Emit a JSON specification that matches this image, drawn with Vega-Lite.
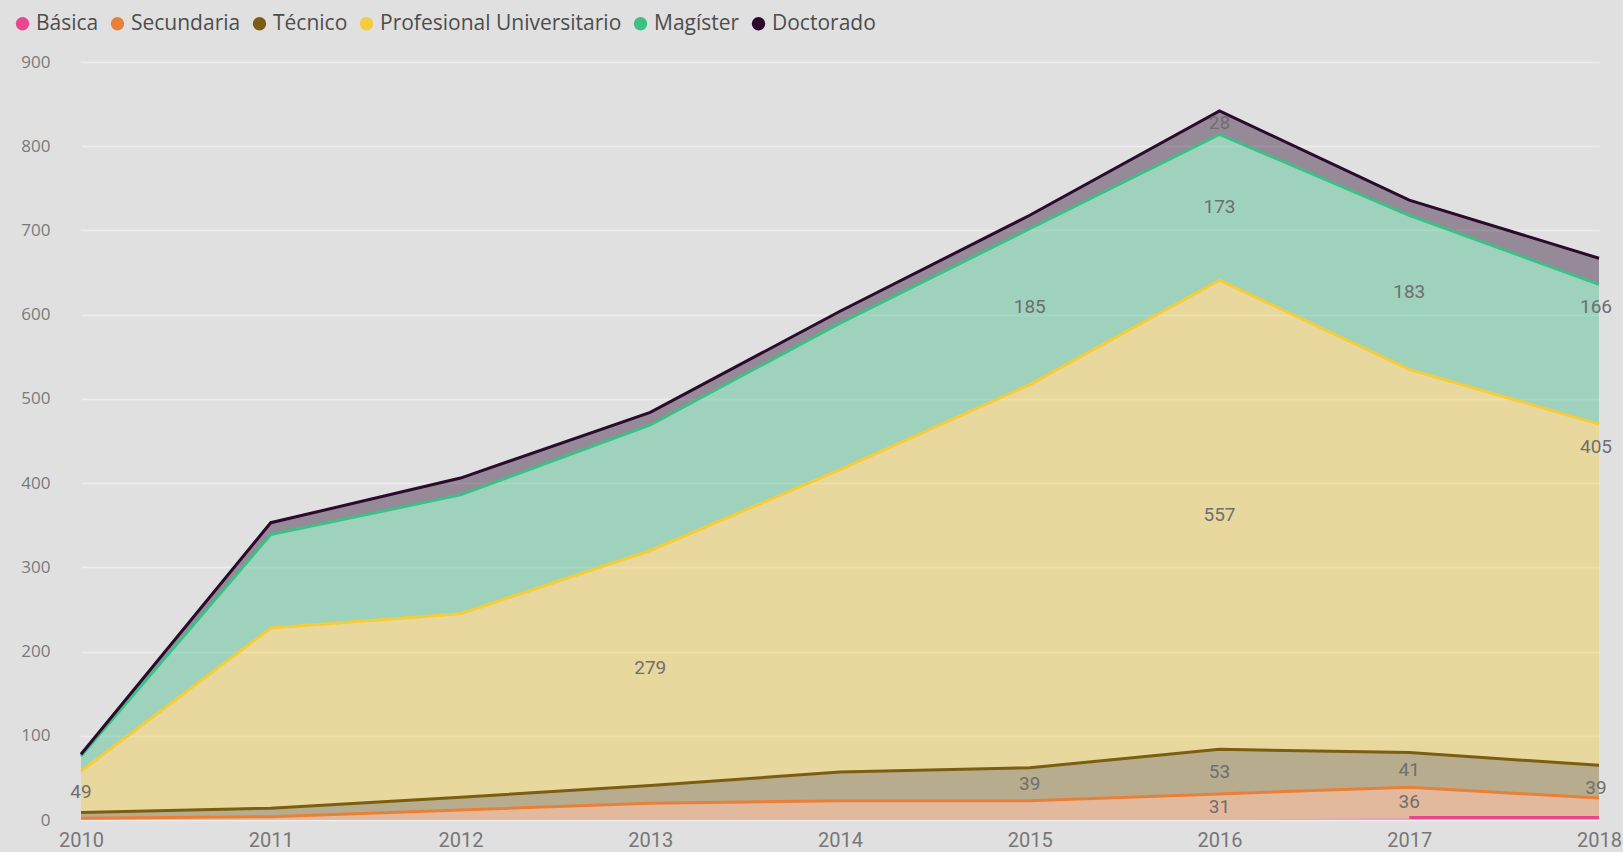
{
  "$schema": "https://vega.github.io/schema/vega-lite/v6.json",
  "width": 1542,
  "height": 758,
  "autosize": {"type": "none"},
  "padding": {"left": 62, "top": 62, "right": 19, "bottom": 32},
  "background": "#E0E0E0",
  "config": {"view": {"stroke": null}, "font": "Open Sans"},
  "data": {
    "values": [
      {"anio": 2010, "nivel": "Básica", "orden": 1, "valor": 0, "etiqueta": 0},
      {"anio": 2010, "nivel": "Secundaria", "orden": 2, "valor": 2, "etiqueta": 0},
      {"anio": 2010, "nivel": "Técnico", "orden": 3, "valor": 7, "etiqueta": 0},
      {"anio": 2010, "nivel": "Profesional Universitario", "orden": 4, "valor": 49, "etiqueta": 1},
      {"anio": 2010, "nivel": "Magíster", "orden": 5, "valor": 18, "etiqueta": 0},
      {"anio": 2010, "nivel": "Doctorado", "orden": 6, "valor": 2, "etiqueta": 0},
      {"anio": 2011, "nivel": "Básica", "orden": 1, "valor": 0, "etiqueta": 0},
      {"anio": 2011, "nivel": "Secundaria", "orden": 2, "valor": 4, "etiqueta": 0},
      {"anio": 2011, "nivel": "Técnico", "orden": 3, "valor": 10, "etiqueta": 0},
      {"anio": 2011, "nivel": "Profesional Universitario", "orden": 4, "valor": 214, "etiqueta": 0},
      {"anio": 2011, "nivel": "Magíster", "orden": 5, "valor": 111, "etiqueta": 0},
      {"anio": 2011, "nivel": "Doctorado", "orden": 6, "valor": 14, "etiqueta": 0},
      {"anio": 2012, "nivel": "Básica", "orden": 1, "valor": 0, "etiqueta": 0},
      {"anio": 2012, "nivel": "Secundaria", "orden": 2, "valor": 12, "etiqueta": 0},
      {"anio": 2012, "nivel": "Técnico", "orden": 3, "valor": 15, "etiqueta": 0},
      {"anio": 2012, "nivel": "Profesional Universitario", "orden": 4, "valor": 218, "etiqueta": 0},
      {"anio": 2012, "nivel": "Magíster", "orden": 5, "valor": 141, "etiqueta": 0},
      {"anio": 2012, "nivel": "Doctorado", "orden": 6, "valor": 20, "etiqueta": 0},
      {"anio": 2013, "nivel": "Básica", "orden": 1, "valor": 0, "etiqueta": 0},
      {"anio": 2013, "nivel": "Secundaria", "orden": 2, "valor": 20, "etiqueta": 0},
      {"anio": 2013, "nivel": "Técnico", "orden": 3, "valor": 21, "etiqueta": 0},
      {"anio": 2013, "nivel": "Profesional Universitario", "orden": 4, "valor": 279, "etiqueta": 1},
      {"anio": 2013, "nivel": "Magíster", "orden": 5, "valor": 149, "etiqueta": 0},
      {"anio": 2013, "nivel": "Doctorado", "orden": 6, "valor": 15, "etiqueta": 0},
      {"anio": 2014, "nivel": "Básica", "orden": 1, "valor": 0, "etiqueta": 0},
      {"anio": 2014, "nivel": "Secundaria", "orden": 2, "valor": 23, "etiqueta": 0},
      {"anio": 2014, "nivel": "Técnico", "orden": 3, "valor": 34, "etiqueta": 0},
      {"anio": 2014, "nivel": "Profesional Universitario", "orden": 4, "valor": 359, "etiqueta": 0},
      {"anio": 2014, "nivel": "Magíster", "orden": 5, "valor": 174, "etiqueta": 0},
      {"anio": 2014, "nivel": "Doctorado", "orden": 6, "valor": 14, "etiqueta": 0},
      {"anio": 2015, "nivel": "Básica", "orden": 1, "valor": 0, "etiqueta": 0},
      {"anio": 2015, "nivel": "Secundaria", "orden": 2, "valor": 23, "etiqueta": 0},
      {"anio": 2015, "nivel": "Técnico", "orden": 3, "valor": 39, "etiqueta": 1},
      {"anio": 2015, "nivel": "Profesional Universitario", "orden": 4, "valor": 455, "etiqueta": 0},
      {"anio": 2015, "nivel": "Magíster", "orden": 5, "valor": 185, "etiqueta": 1},
      {"anio": 2015, "nivel": "Doctorado", "orden": 6, "valor": 16, "etiqueta": 0},
      {"anio": 2016, "nivel": "Básica", "orden": 1, "valor": 0, "etiqueta": 0},
      {"anio": 2016, "nivel": "Secundaria", "orden": 2, "valor": 31, "etiqueta": 1},
      {"anio": 2016, "nivel": "Técnico", "orden": 3, "valor": 53, "etiqueta": 1},
      {"anio": 2016, "nivel": "Profesional Universitario", "orden": 4, "valor": 557, "etiqueta": 1},
      {"anio": 2016, "nivel": "Magíster", "orden": 5, "valor": 173, "etiqueta": 1},
      {"anio": 2016, "nivel": "Doctorado", "orden": 6, "valor": 28, "etiqueta": 1},
      {"anio": 2017, "nivel": "Básica", "orden": 1, "valor": 3, "etiqueta": 0},
      {"anio": 2017, "nivel": "Secundaria", "orden": 2, "valor": 36, "etiqueta": 1},
      {"anio": 2017, "nivel": "Técnico", "orden": 3, "valor": 41, "etiqueta": 1},
      {"anio": 2017, "nivel": "Profesional Universitario", "orden": 4, "valor": 455, "etiqueta": 0},
      {"anio": 2017, "nivel": "Magíster", "orden": 5, "valor": 183, "etiqueta": 1},
      {"anio": 2017, "nivel": "Doctorado", "orden": 6, "valor": 18, "etiqueta": 0},
      {"anio": 2018, "nivel": "Básica", "orden": 1, "valor": 3, "etiqueta": 0},
      {"anio": 2018, "nivel": "Secundaria", "orden": 2, "valor": 23, "etiqueta": 0},
      {"anio": 2018, "nivel": "Técnico", "orden": 3, "valor": 39, "etiqueta": 1},
      {"anio": 2018, "nivel": "Profesional Universitario", "orden": 4, "valor": 405, "etiqueta": 1},
      {"anio": 2018, "nivel": "Magíster", "orden": 5, "valor": 166, "etiqueta": 1},
      {"anio": 2018, "nivel": "Doctorado", "orden": 6, "valor": 31, "etiqueta": 0}
    ]
  },
  "encoding": {
    "x": {
      "field": "anio",
      "type": "quantitative",
      "scale": {"domain": [2010, 2018], "range": [19, 1537], "nice": false, "zero": false},
      "axis": {
        "values": [2010, 2011, 2012, 2013, 2014, 2015, 2016, 2017, 2018],
        "format": "d",
        "title": null,
        "grid": false,
        "ticks": false,
        "domain": false,
        "labelFont": "Roboto",
        "labelFontSize": 20,
        "labelColor": "#777777",
        "labelPadding": 10,
        "labelFlush": false
      }
    }
  },
  "layer": [
    {
      "mark": {"type": "area", "fillOpacity": 0.4, "interpolate": "linear"},
      "encoding": {
        "y": {
          "field": "valor",
          "type": "quantitative",
          "stack": "zero",
          "scale": {"domain": [0, 900], "nice": false},
          "axis": {
            "title": null,
            "values": [0, 100, 200, 300, 400, 500, 600, 700, 800, 900],
            "ticks": false,
            "domain": false,
            "labelFont": "Open Sans",
            "labelFontSize": 17,
            "labelColor": "#7A7A7A",
            "labelPadding": 12,
            "gridColor": "#EDEDED",
            "gridWidth": 1.5
          }
        },
        "order": {"field": "orden", "type": "quantitative"},
        "fill": {
          "field": "nivel",
          "type": "nominal",
          "scale": {
            "domain": ["Básica", "Secundaria", "Técnico", "Profesional Universitario", "Magíster", "Doctorado"],
            "range": ["#E8478D", "#E9803A", "#7B5E12", "#F4CC3C", "#3DBF86", "#2B0A2E"]
          },
          "legend": {
            "title": null,
            "orient": "none",
            "legendX": -50,
            "legendY": -49,
            "direction": "horizontal",
            "symbolType": "circle",
            "symbolSize": 180,
            "symbolOpacity": 1,
            "symbolStrokeWidth": 0,
            "labelFont": "Open Sans",
            "labelFontSize": 21,
            "labelColor": "#4D4D4D",
            "labelOffset": 3,
            "labelLimit": 0,
            "columnPadding": 8,
            "padding": 0
          }
        }
      }
    },
    {
      "transform": [
        {"stack": "valor", "groupby": ["anio"], "sort": [{"field": "orden", "order": "ascending"}], "as": ["v0", "v1"]},
        {"filter": "datum.valor > 0"}
      ],
      "mark": {"type": "line", "strokeWidth": 3, "interpolate": "linear"},
      "encoding": {
        "y": {"field": "v1", "type": "quantitative"},
        "order": {"field": "anio", "type": "quantitative"},
        "stroke": {
          "field": "nivel",
          "type": "nominal",
          "scale": {
            "domain": ["Básica", "Secundaria", "Técnico", "Profesional Universitario", "Magíster", "Doctorado"],
            "range": ["#E8478D", "#E9803A", "#7B5E12", "#F4CC3C", "#3DBF86", "#2B0A2E"]
          },
          "legend": null
        }
      }
    },
    {
      "transform": [
        {"stack": "valor", "groupby": ["anio"], "sort": [{"field": "orden", "order": "ascending"}], "as": ["v0", "v1"]},
        {"filter": "datum.etiqueta == 1 && datum.anio < 2018"},
        {"calculate": "(datum.v0 + datum.v1) / 2", "as": "ymid"}
      ],
      "mark": {"type": "text", "font": "Roboto", "fontSize": 19, "color": "#6F6F6F", "baseline": "middle", "align": "center"},
      "encoding": {
        "y": {"field": "ymid", "type": "quantitative"},
        "text": {"field": "valor", "type": "quantitative"}
      }
    },
    {
      "transform": [
        {"stack": "valor", "groupby": ["anio"], "sort": [{"field": "orden", "order": "ascending"}], "as": ["v0", "v1"]},
        {"filter": "datum.etiqueta == 1 && datum.anio == 2018"}
      ],
      "mark": {"type": "text", "font": "Roboto", "fontSize": 19, "color": "#6F6F6F", "baseline": "middle", "align": "center", "dy": 23, "dx": -3},
      "encoding": {
        "y": {"field": "v1", "type": "quantitative"},
        "text": {"field": "valor", "type": "quantitative"}
      }
    }
  ]
}
